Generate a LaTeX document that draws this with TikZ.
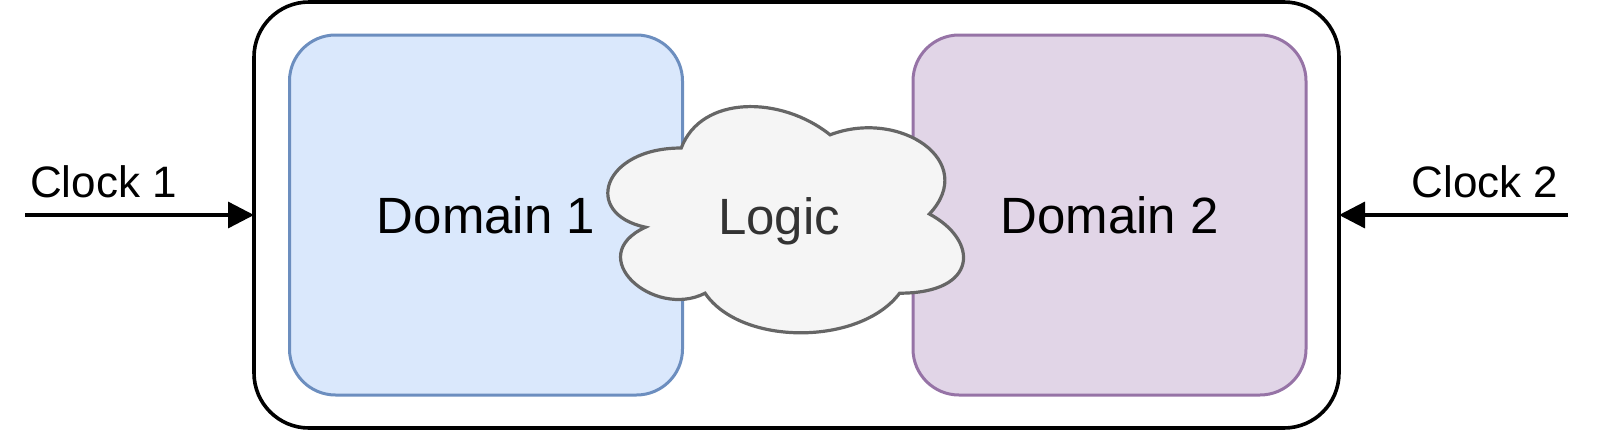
\documentclass[tikz,border=0pt]{standalone}
\usepackage{fontspec}
\setmainfont{Liberation Sans}
\usepackage{tikz}
\usetikzlibrary{arrows.meta,positioning}
\definecolor{blueFill}{HTML}{DAE8FC}
\definecolor{blueLine}{HTML}{6C8EBF}
\definecolor{purpleFill}{HTML}{E1D5E7}
\definecolor{purpleLine}{HTML}{9673A6}
\definecolor{cloudFill}{HTML}{F5F5F5}
\definecolor{cloudLine}{HTML}{666666}
\definecolor{cloudText}{HTML}{333333}

\begin{document}
\begin{tikzpicture}[x=0.5pt,y=-0.5pt,
	chip/.style={draw=black, line width=1.8pt, rounded corners=27.5pt, inner sep=0pt, outer sep=0pt, minimum width=542.5pt, minimum height=213pt},
	domainbox/.style={line width=1.5pt, rounded corners=23pt, inner sep=0pt, outer sep=0pt, minimum width=196.5pt, minimum height=180pt, font=\fontsize{25.5}{30}\selectfont},
	logictext/.style={anchor=base, text=cloudText, font=\fontsize{25.5}{30}\selectfont},
	clk/.style={-{Triangle[length=13pt,width=13pt]}, line width=1.7pt},
	clklabel/.style={anchor=base, font=\fontsize{22}{26}\selectfont}]
\useasboundingbox (0,0) rectangle (1600,434);
\node[chip] (outer) at (796.5,215) {};
\node[domainbox, draw=blueLine, fill=blueFill] (dom1) at (486,215) {Domain 1};
\node[domainbox, draw=purpleLine, fill=purpleFill] (dom2) at (1109.5,215) {Domain 2};
% cloud drawn in its own box, 397 x 264
\begin{scope}[shift={(582,82)}, x=198.5pt, y=-132pt]
	\draw[draw=cloudLine, fill=cloudFill, line width=1.6pt]
	(0.25,0.25) .. controls (0.05,0.25) and (0,0.5) .. (0.16,0.55)
	.. controls (0,0.66) and (0.18,0.9) .. (0.31,0.8)
	.. controls (0.4,1) and (0.7,1) .. (0.8,0.8)
	.. controls (1,0.8) and (1,0.6) .. (0.875,0.5)
	.. controls (1,0.3) and (0.8,0.1) .. (0.625,0.2)
	.. controls (0.5,0.05) and (0.3,0.05) .. (0.25,0.25) -- cycle;
\end{scope}
\node[logictext] (logic) at (779,234) {Logic};
\coordinate (in1) at (25,215);
\coordinate (in2) at (1568,215);
\draw[clk] (in1) -- (outer.west);
\draw[clk] (in2) -- (outer.east);
\node[clklabel] (clk1) at (103.5,197) {Clock 1};
\node[clklabel] (clk2) at (1485,197) {Clock 2};
\end{tikzpicture}
\end{document}
